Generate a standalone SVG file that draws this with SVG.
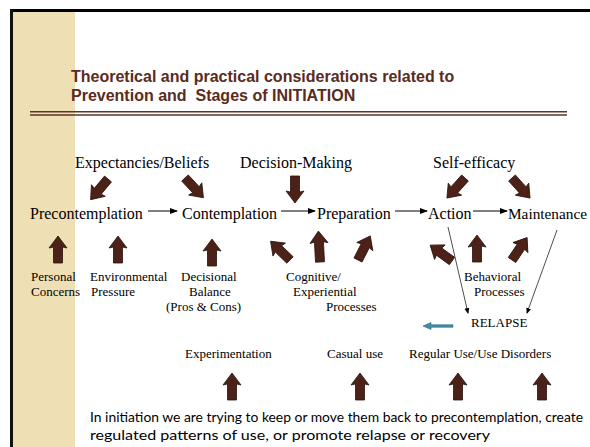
<svg xmlns="http://www.w3.org/2000/svg" xmlns:xlink="http://www.w3.org/1999/xlink" width="590" height="447" viewBox="0 0 590 447">
<style>
.t{font-family:"Liberation Sans",Arial,sans-serif;font-weight:bold;font-size:16px;fill:#5a2b20}
.m{font-family:"Liberation Serif","Times New Roman",serif;font-size:16px;fill:#000}
.s{font-family:"Liberation Serif","Times New Roman",serif;font-size:13px;fill:#000}
.b{font-family:Lato,"Open Sans",sans-serif;font-size:14px;fill:#000}
.thin{stroke:#000;stroke-width:1;fill:none}
.thin2{stroke:#000;stroke-width:0.7;fill:none}
.dbl{stroke:#5e3427;stroke-width:1.5}
</style>
<defs>
<path id="ua" d="M-4.5,0 L-4.5,-16 L-9,-15 L0,-27 L9,-15 L4.5,-16 L4.5,0 Z" fill="#4c2218" stroke="#2a110b" stroke-width="0.8"/>
<path id="ub" d="M-4.5,0 L-4.5,-20 L-9,-19 L0,-31 L9,-19 L4.5,-20 L4.5,0 Z" fill="#4c2218" stroke="#2a110b" stroke-width="0.8"/>
<marker id="ah" markerWidth="8" markerHeight="6" refX="7" refY="3" orient="auto" markerUnits="userSpaceOnUse">
<path d="M0,0 L8,3 L0,6 Z" fill="#000"/>
</marker>
<marker id="ah2" markerWidth="6" markerHeight="6" refX="5" refY="3" orient="auto" markerUnits="userSpaceOnUse">
<path d="M0,0.5 L6,3 L0,5.5 Z" fill="#000"/>
</marker>
</defs>
<rect x="0" y="0" width="590" height="447" fill="#fff"/>
<g id="frame">
<rect x="13" y="12" width="62" height="435" fill="#efdfb4"/>
<rect x="10" y="9" width="580" height="3" fill="#000"/>
<rect x="10" y="9" width="3" height="438" fill="#111"/>
</g>
<g id="title">
<text class="t" x="71" y="82">Theoretical and practical considerations related to</text>
<text class="t" x="71" y="101" xml:space="preserve" style="white-space:pre">Prevention and  Stages of INITIATION</text>
<line class="dbl" x1="30" y1="111.8" x2="567" y2="111.8"/>
<line class="dbl" x1="30" y1="115" x2="567" y2="115"/>
</g>
<g id="n-expectancies"><text class="m" x="75" y="168">Expectancies/Beliefs</text></g>
<g id="n-decision"><text class="m" x="240" y="168">Decision-Making</text></g>
<g id="n-selfefficacy"><text class="m" x="433" y="168">Self-efficacy</text></g>
<g id="n-precontemplation"><text class="m" x="30" y="219">Precontemplation</text></g>
<g id="n-contemplation"><text class="m" x="182" y="219">Contemplation</text></g>
<g id="n-preparation"><text class="m" x="317" y="219">Preparation</text></g>
<g id="n-action"><text class="m" x="428" y="219">Action</text></g>
<g id="n-maintenance"><text class="m" x="508" y="219" style="font-size:15.3px">Maintenance</text></g>
<g id="n-personal"><text class="s" x="31" y="281">Personal</text><text class="s" x="31" y="296">Concerns</text></g>
<g id="n-environmental"><text class="s" x="90" y="281">Environmental</text><text class="s" x="91" y="296">Pressure</text></g>
<g id="n-decisional"><text class="s" x="181" y="281">Decisional</text><text class="s" x="189" y="296">Balance</text><text class="s" x="166" y="311">(Pros &amp; Cons)</text></g>
<g id="n-cognitive"><text class="s" x="286" y="281">Cognitive/</text><text class="s" x="293" y="296">Experiential</text><text class="s" x="326" y="311">Processes</text></g>
<g id="n-behavioral"><text class="s" x="464" y="281">Behavioral</text><text class="s" x="474" y="296">Processes</text></g>
<g id="n-relapse"><text class="s" x="471" y="327">RELAPSE</text></g>
<g id="n-experimentation"><text class="s" x="185" y="358">Experimentation</text></g>
<g id="n-casual"><text class="s" x="327" y="358">Casual use</text></g>
<g id="n-regular"><text class="s" x="409" y="358">Regular Use/Use Disorders</text></g>
<g id="n-note">
<text class="b" x="90" y="422" textLength="493" lengthAdjust="spacingAndGlyphs">In initiation we are trying to keep or move them back to precontemplation, create</text>
<text class="b" x="90" y="440" textLength="400" lengthAdjust="spacingAndGlyphs">regulated patterns of use, or promote relapse or recovery</text>
</g>
<g id="connectors">
<line class="thin" x1="148" y1="211" x2="177" y2="211" marker-end="url(#ah)"/>
<line class="thin" x1="281" y1="211" x2="315" y2="211" marker-end="url(#ah)"/>
<line class="thin" x1="395" y1="211" x2="427" y2="211" marker-end="url(#ah)"/>
<line class="thin" x1="473" y1="211" x2="507" y2="211" marker-end="url(#ah)"/>
<line class="thin2" x1="448" y1="227" x2="468" y2="313" marker-end="url(#ah2)"/>
<line class="thin2" x1="557" y1="230" x2="527" y2="313" marker-end="url(#ah2)"/>
<path d="M453,324.8 L431,324.8 L431,322.5 L423,326 L431,329.5 L431,327.2 L453,327.2 Z" fill="#3f8ea3" stroke="#2b6878" stroke-width="0.6"/>
<use xlink:href="#ua" transform="translate(108,179) rotate(-140)"/>
<use xlink:href="#ua" transform="translate(185,178) rotate(137)"/>
<use xlink:href="#ua" transform="translate(295,176) rotate(180)"/>
<use xlink:href="#ua" transform="translate(465,178) rotate(-138)"/>
<use xlink:href="#ua" transform="translate(512,178) rotate(138)"/>
<use xlink:href="#ua" transform="translate(58,263)"/>
<use xlink:href="#ua" transform="translate(118,263)"/>
<use xlink:href="#ua" transform="translate(212,266)"/>
<use xlink:href="#ua" transform="translate(290,260) rotate(-46)"/>
<use xlink:href="#ub" transform="translate(320,262) rotate(-3)"/>
<use xlink:href="#ua" transform="translate(358,260) rotate(27)"/>
<use xlink:href="#ua" transform="translate(452,261) rotate(-54)"/>
<use xlink:href="#ua" transform="translate(477,262)"/>
<use xlink:href="#ua" transform="translate(512,260) rotate(34)"/>
<use xlink:href="#ua" transform="translate(232,400)"/>
<use xlink:href="#ua" transform="translate(360,400)"/>
<use xlink:href="#ua" transform="translate(458,400)"/>
<use xlink:href="#ua" transform="translate(542,400)"/>
</g>
</svg>
